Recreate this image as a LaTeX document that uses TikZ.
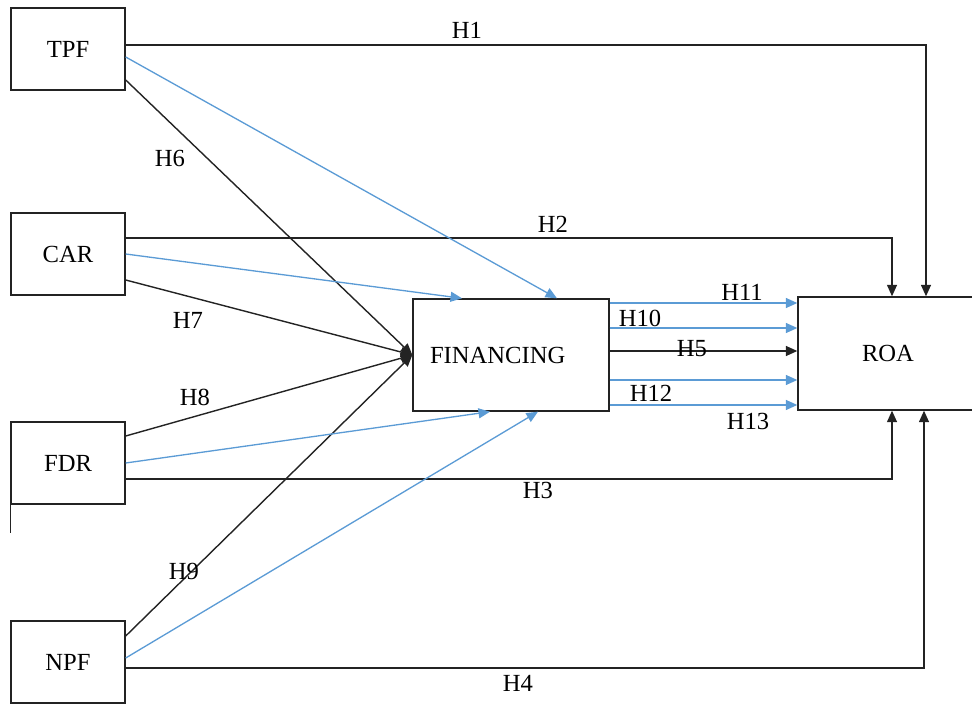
\documentclass[tikz,border=0pt]{standalone}
\usepackage{fontspec}
\setmainfont{Liberation Serif}
\usetikzlibrary{arrows.meta, positioning, calc}
\definecolor{lblue}{RGB}{91,155,213}
\definecolor{dline}{RGB}{35,35,35}
\tikzset{
  var/.style={draw=dline, line width=0.8pt, minimum width=2.28cm,
              minimum height=1.64cm, inner sep=0pt,
              font=\fontsize{14}{16}\selectfont},
  hyp/.style={draw=dline, line width=0.8pt,
              -{Triangle[length=0.23cm,width=0.2cm]}},
  med/.style={draw=lblue, line width=0.75pt,
              -{Triangle[length=0.23cm,width=0.2cm]}},
  hlab/.style={font=\fontsize{14}{16}\selectfont, inner sep=0pt}
}

\begin{document}
\begin{tikzpicture}[x=0.02cm, y=-0.02cm]
  \useasboundingbox (0,0) rectangle (972,705);

  % variables
  \node[var] (tpf) at (68,49)  {TPF};
  \node[var] (car) at (68,254) {CAR};
  \node[var] (fdr) at (68,463) {FDR};
  \node[var] (npf) at (68,662) {NPF};
  \node[var, minimum width=3.92cm, minimum height=2.24cm,
        inner xsep=0.34cm, text width=3.24cm, align=left] (fin) at (511,355) {FINANCING};
  \node[var, minimum width=3.6cm, minimum height=2.26cm] (roa) at (888,353.5) {ROA};
  \draw[dline, line width=0.8pt] (fdr.south west) -- ++(0,28);

  % direct paths to ROA
  \draw[hyp] ([yshift=0.08cm]tpf.east)  -| ([xshift=0.76cm]roa.north);
  \draw[hyp] ([yshift=0.32cm]car.east)  -| ([xshift=0.08cm]roa.north);
  \draw[hyp] ([yshift=-0.32cm]fdr.east) -| ([xshift=0.08cm]roa.south);
  \draw[hyp] ([yshift=-0.12cm]npf.east) -| ([xshift=0.72cm]roa.south);

  % paths to FINANCING
  \draw[hyp] ([yshift=-0.62cm]tpf.east) -- (fin.west);
  \draw[hyp] ([yshift=-0.52cm]car.east) -- (fin.west);
  \draw[hyp] ([yshift=0.54cm]fdr.east)  -- (fin.west);
  \draw[hyp] ([yshift=0.52cm]npf.east)  -- (fin.west);
  \draw[med] ([yshift=-0.16cm]tpf.east) -- ([xshift=0.92cm]fin.north);
  \draw[med] (car.east)                 -- ([xshift=-0.98cm]fin.north);
  \draw[med] (fdr.east)                 -- ([xshift=-0.42cm]fin.south);
  \draw[med] ([yshift=0.08cm]npf.east)  -- ([xshift=0.54cm]fin.south);

  % FINANCING to ROA
  \coordinate (o11) at ([yshift=1.04cm]fin.east);
  \coordinate (o10) at ([yshift=0.54cm]fin.east);
  \coordinate (o5)  at ([yshift=0.08cm]fin.east);
  \coordinate (o12) at ([yshift=-0.5cm]fin.east);
  \coordinate (o13) at ([yshift=-1.0cm]fin.east);
  \draw[med] (o11) -- (o11 -| roa.west);
  \draw[med] (o10) -- (o10 -| roa.west);
  \draw[hyp] (o5)  -- (o5 -| roa.west);
  \draw[med] (o12) -- (o12 -| roa.west);
  \draw[med] (o13) -- (o13 -| roa.west);

  % hypothesis labels
  \node[hlab] (h1)  at (467,30)  {H1};
  \node[hlab] (h2)  at (553,224) {H2};
  \node[hlab] (h3)  at (538,490) {H3};
  \node[hlab] (h4)  at (518,683) {H4};
  \node[hlab] (h6)  at (170,158) {H6};
  \node[hlab] (h7)  at (188,320) {H7};
  \node[hlab] (h8)  at (195,397) {H8};
  \node[hlab] (h9)  at (184,571) {H9};
  \node[hlab] (h11) at (742,292) {H11};
  \node[hlab] (h10) at (640,318) {H10};
  \node[hlab] (h5)  at (692,349) {H5};
  \node[hlab] (h12) at (651,393) {H12};
  \node[hlab] (h13) at (748,421) {H13};
\end{tikzpicture}
\end{document}
